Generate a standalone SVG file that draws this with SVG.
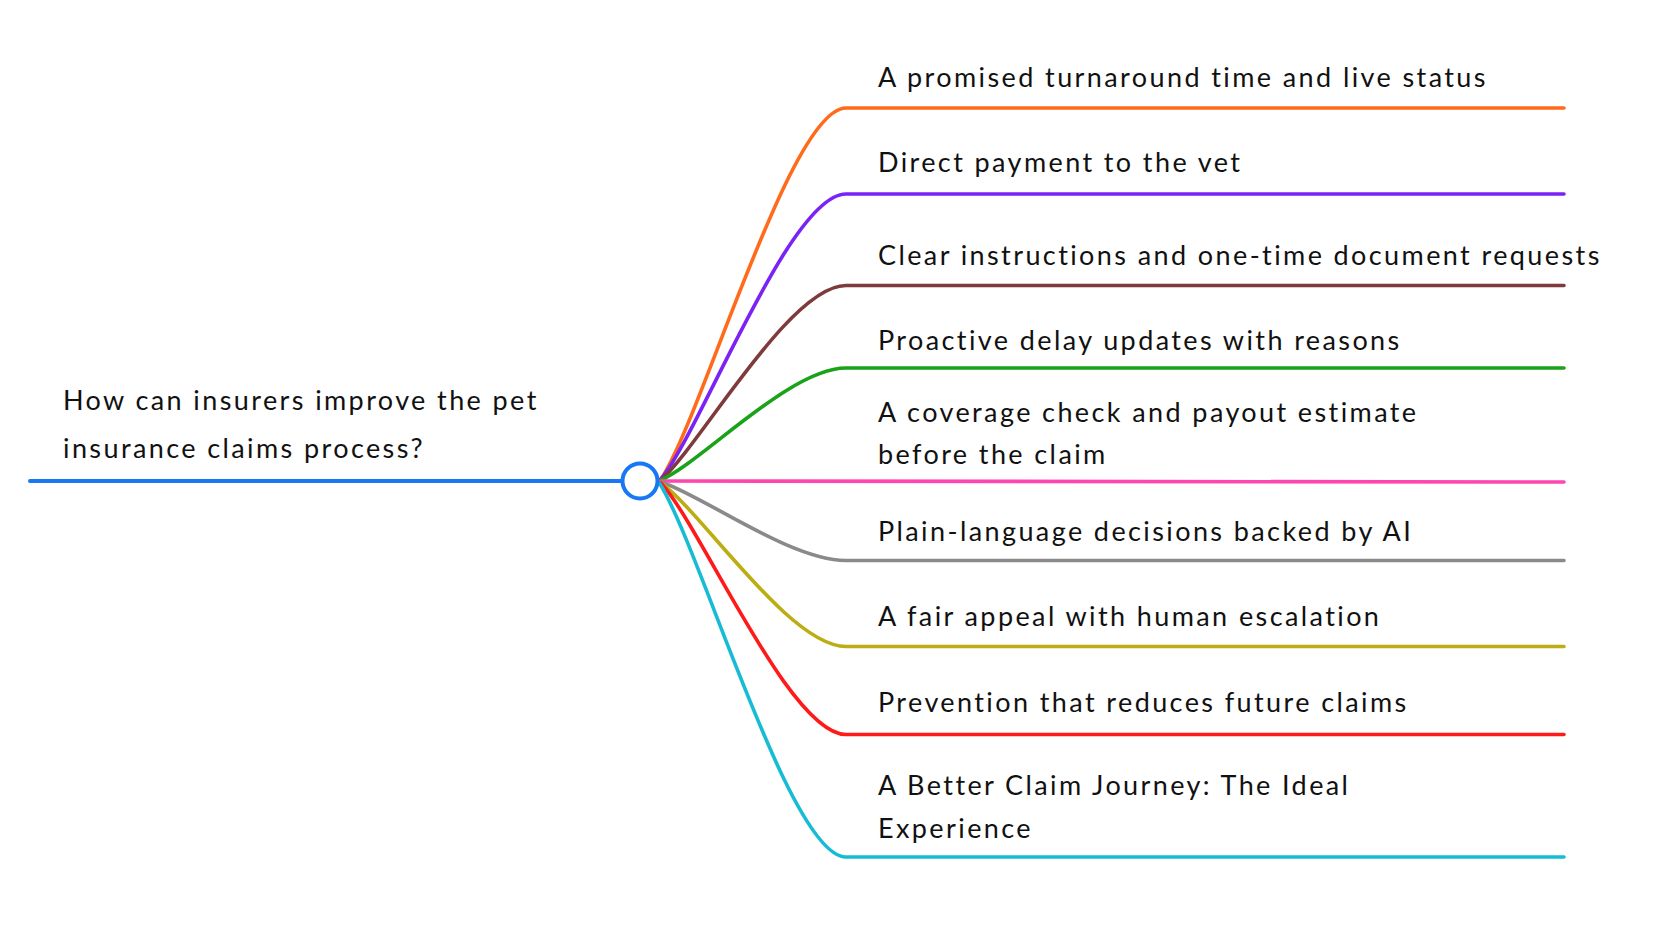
<svg xmlns="http://www.w3.org/2000/svg" width="1661" height="947" viewBox="0 0 1661 947">
<style>
.t{font-family:Lato,"Open Sans","Liberation Sans",sans-serif;font-size:27px;letter-spacing:2.4px;fill:#111;}
.b{fill:none;stroke-width:3.6;stroke-linecap:round;}
</style>
<rect width="1661" height="947" fill="#fff"/>
<g id="connectors">
<path class="b" stroke="#ff6b1a" d="M661,479 C702,418 790,108 846,108 L1564,108"/>
<path class="b" stroke="#7b22f5" d="M661,479 C702,428 790,194 846,194 L1564,194"/>
<path class="b" stroke="#7f3b3b" d="M661,480 C702,443 790,285.5 846,285.5 L1564,285.5"/>
<path class="b" stroke="#1aa31a" d="M661,480 C702,462 790,368 846,368 L1564,368"/>
<path class="b" stroke="#ff45b0" d="M661,481 L1564,482"/>
<path class="b" stroke="#8a8a8a" d="M661,482 C702,495 790,560.5 846,560.5 L1564,560.5"/>
<path class="b" stroke="#bbad12" d="M661,483 C702,512 790,646.5 846,646.5 L1564,646.5"/>
<path class="b" stroke="#ff1a1a" d="M661,483 C702,528 790,734.5 846,734.5 L1564,734.5"/>
<path class="b" stroke="#17bcd4" d="M660,484 C702,552 790,857 846,857 L1564,857"/>
</g>
<g id="root">
<line x1="30" y1="481" x2="622" y2="481" stroke="#1877f2" stroke-width="4" stroke-linecap="round"/>
<circle cx="640" cy="481" r="17.5" fill="#fff" stroke="#1877f2" stroke-width="4"/>
<text class="t" x="63" y="410">How can insurers improve the pet</text>
<text class="t" x="63" y="458">insurance claims process?</text>
</g>
<g id="n1"><text class="t" x="878" y="86.5">A promised turnaround time and live status</text></g>
<g id="n2"><text class="t" x="878" y="172">Direct payment to the vet</text></g>
<g id="n3"><text class="t" x="878" y="265">Clear instructions and one-time document requests</text></g>
<g id="n4"><text class="t" x="878" y="350">Proactive delay updates with reasons</text></g>
<g id="n5"><text class="t" x="878" y="421.5">A coverage check and payout estimate</text><text class="t" x="878" y="463.5">before the claim</text></g>
<g id="n6"><text class="t" x="878" y="541">Plain-language decisions backed by AI</text></g>
<g id="n7"><text class="t" x="878" y="625.5">A fair appeal with human escalation</text></g>
<g id="n8"><text class="t" x="878" y="712">Prevention that reduces future claims</text></g>
<g id="n9"><text class="t" x="878" y="795">A Better Claim Journey: The Ideal</text><text class="t" x="878" y="838">Experience</text></g>
</svg>
